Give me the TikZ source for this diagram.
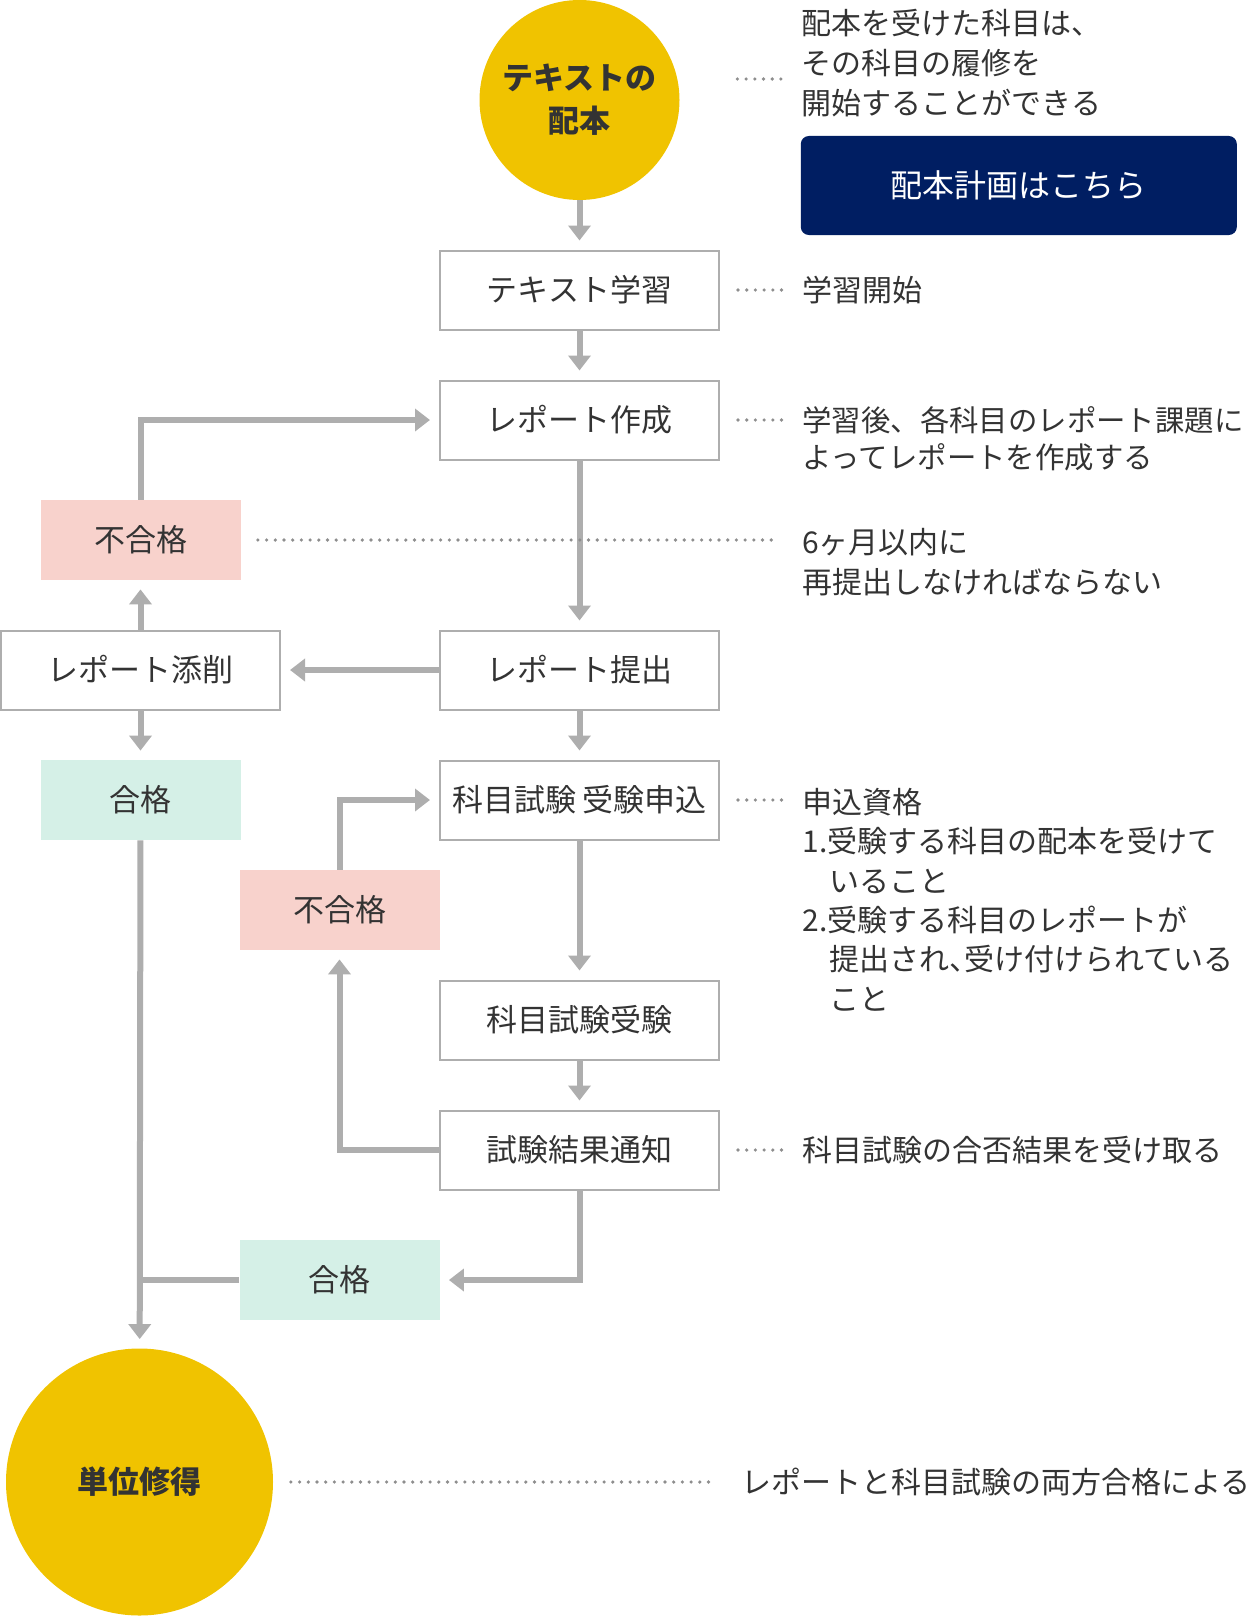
\documentclass[tikz,border=0pt]{standalone}
\usepackage{fontspec}
\setmainfont{Noto Sans CJK JP}
\usetikzlibrary{positioning,arrows.meta}
\definecolor{linegray}{HTML}{AEAEAE}
\definecolor{dotgray}{HTML}{8E8E8E}
\definecolor{textgray}{HTML}{333333}
\definecolor{failpink}{HTML}{F8D2CC}
\definecolor{passgreen}{HTML}{D5F0E7}
\definecolor{goldyellow}{HTML}{F0C300}
\definecolor{navyblue}{HTML}{001E62}
\tikzstyle{milestone} = [circle, inner sep=0pt, align=center, fill=goldyellow, text=textgray, font=\fontsize{15.5pt}{21.5pt}\selectfont\bfseries]
\tikzstyle{process} = [rectangle, minimum width=139.5pt, minimum height=39.5pt, text centered, draw=linegray, line width=1pt, fill=white, text=textgray, font=\fontsize{15.5pt}{20pt}\selectfont]
\tikzstyle{failbox} = [rectangle, minimum width=100pt, minimum height=40pt, text centered, fill=failpink, text=textgray, font=\fontsize{15.5pt}{20pt}\selectfont]
\tikzstyle{passbox} = [rectangle, minimum width=100pt, minimum height=40pt, text centered, fill=passgreen, text=textgray, font=\fontsize{15.5pt}{20pt}\selectfont]
\tikzstyle{button} = [rectangle, rounded corners=4pt, minimum width=218pt, minimum height=49.5pt, fill=navyblue, text=white, font=\fontsize{16pt}{20pt}\selectfont]
\tikzstyle{note} = [align=left, inner sep=0pt, text=textgray]
\tikzstyle{arrow} = [line width=3pt, draw=linegray, -{Triangle[length=7.5pt,width=11pt]}, shorten >=4.5pt]
\tikzstyle{link} = [line width=3pt, draw=linegray]
\tikzstyle{leader} = [draw=dotgray, line width=1.8pt, line cap=round, dash pattern=on 0pt off 4.35pt]

\begin{document}
\begin{tikzpicture}[x=0.5pt, y=-0.5pt, node distance=65pt]
\useasboundingbox (0,0) rectangle (1249,1616);
% main column
\node (start) [milestone, minimum size=100pt] at (579.5,100) {テキストの\\配本};
\node (study) [process, below of=start, yshift=-30pt] {テキスト学習};
\node (write) [process, below of=study] {レポート作成};
\node (submit) [process, below of=write, yshift=-60pt] {レポート提出};
\node (apply) [process, below of=submit] {科目試験 受験申込};
\node (exam) [process, below of=apply, yshift=-45pt] {科目試験受験};
\node (result) [process, below of=exam] {試験結果通知};
% left side
\node (correct) [process, left of=submit, xshift=-154.5pt] {レポート添削};
\node (fail1) [failbox, above of=correct] {不合格};
\node (pass1) [passbox, below of=correct] {合格};
\node (fail2) [failbox, below of=apply, xshift=-120pt, yshift=10pt] {不合格};
\node (pass2) [passbox, below of=result, xshift=-120pt] {合格};
\node (credit) [milestone, minimum size=133.5pt, below of=pass2, xshift=-100pt, yshift=-36pt] {単位修得};

% notes
\node (note1) [note, right=60.75pt of start, yshift=18.5pt, font=\fontsize{15pt}{20pt}\selectfont] {配本を受けた科目は、\\その科目の履修を\\開始することができる};
\node (plan) [button, right=60.25pt of start, yshift=-42.75pt] {配本計画はこちら};
\node (note2) [note, right=41pt of study, font=\fontsize{15pt}{20pt}\selectfont] {学習開始};
\node (note3) [note, right=41pt of write, yshift=-9.25pt, font=\fontsize{14.7pt}{18.5pt}\selectfont] {学習後、各科目のレポート課題に\\よってレポートを作成する};
\node (note4) [note, right=280.5pt of fail1, yshift=-10.85pt, font=\fontsize{15pt}{20pt}\selectfont] {6ヶ月以内に\\再提出しなければならない};
\node (note5) [note, right=41pt of apply, yshift=-49.75pt, font=\fontsize{15pt}{19.7pt}\selectfont] {申込資格\\1.受験する科目の配本を受けて\\\hspace*{13.5pt}いること\\2.受験する科目のレポートが\\\hspace*{13.5pt}提出され\makebox[0.5em][l]{、}受け付けられている\\\hspace*{13.5pt}こと};
\node (note6) [note, right=41pt of result, font=\fontsize{15pt}{20pt}\selectfont] {科目試験の合否結果を受け取る};
\node (note7) [note, right=233.75pt of credit, font=\fontsize{15pt}{20pt}\selectfont] {レポートと科目試験の両方合格による};

% flow
\draw [arrow] (start) -- (study);
\draw [arrow] (study) -- (write);
\draw [arrow] (write) -- (submit);
\draw [arrow] (submit) -- (correct);
\draw [arrow] (correct) -- (fail1);
\draw [arrow] (fail1) |- (write);
\draw [arrow] (correct) -- (pass1);
\draw [arrow] (submit) -- (apply);
\draw [arrow] (fail2) |- (apply);
\draw [arrow] (apply) -- (exam);
\draw [arrow] (exam) -- (result);
\draw [arrow] (result) -| (fail2);
\draw [arrow] (result) |- (pass2);
\draw [arrow] (pass1) -- (credit);
\draw [link] (pass2) -- (pass2 -| pass1);

% dotted leaders
\draw [leader] ([xshift=28.75pt, yshift=10.5pt]start.east) -- ++(22.5pt,0);
\draw [leader] ([xshift=9pt]study.east) -- ++(22.5pt,0);
\draw [leader] ([xshift=9pt]write.east) -- ++(22.5pt,0);
\draw [leader] ([xshift=8.5pt]fail1.east) -- ++(260pt,0);
\draw [leader] ([xshift=9pt]apply.east) -- ++(22.5pt,0);
\draw [leader] ([xshift=9pt]result.east) -- ++(22.5pt,0);
\draw [leader] ([xshift=8.75pt]credit.east) -- ++(210pt,0);
\end{tikzpicture}
\end{document}
